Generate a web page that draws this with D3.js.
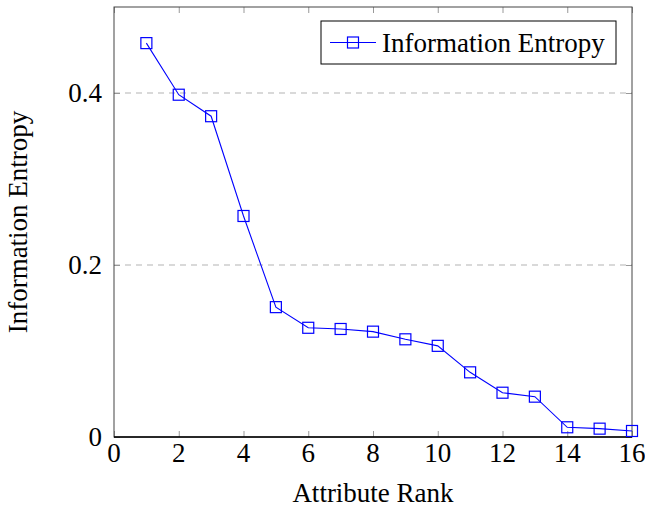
<!DOCTYPE html>
<html>
<head>
<meta charset="utf-8">
<script src="https://cdn.jsdelivr.net/npm/d3@7"></script>
<style>
  body { margin: 0; background: #fff; }
  svg { display: block; font-family: "Liberation Serif", "DejaVu Serif", serif; }
</style>
</head>
<body>
<div id="chart"></div>
<script>
var ranks = [1, 2, 3, 4, 5, 6, 7, 8, 9, 10, 11, 12, 13, 14, 15, 16];
var entropy = [0.458, 0.398, 0.373, 0.257, 0.151, 0.127, 0.1256, 0.1225, 0.1136, 0.106,
  0.0752, 0.0515, 0.0469, 0.0113, 0.0097, 0.007];
var xTicks = [0, 2, 4, 6, 8, 10, 12, 14, 16];
var yTicks = [0, 0.2, 0.4];
var seriesName = "Information Entropy";

var W = 645, H = 512;
var margin = { top: 7, right: 13, bottom: 75, left: 114 };
var width = W - margin.left - margin.right,
  height = H - margin.top - margin.bottom;

var svg = d3.select("#chart").append("svg").attr("width", W).attr("height", H);
var g = svg.append("g").attr("transform", "translate(" + margin.left + "," + margin.top + ")");

var x = d3.scaleLinear().domain([0, 16]).range([0, width]);
var y = d3.scaleLinear().domain([0, 0.5]).range([height, 0]);

// dashed grid on y major ticks
g.selectAll(".grid").data(yTicks.filter(function (d) { return d > 0; }))
  .enter().append("line")
  .attr("x1", 0).attr("x2", width)
  .attr("y1", function (d) { return y(d); }).attr("y2", function (d) { return y(d); })
  .attr("stroke", "#b3b3b3").attr("stroke-width", 1).attr("stroke-dasharray", "6,5");

// inner ticks on all four sides
var tickLen = 6;
function ticks(axis, cls) {
  var sel = g.append("g").attr("class", cls);
  sel.call(axis);
  sel.select(".domain").remove();
  sel.selectAll(".tick line").attr("stroke", "#999");
  sel.selectAll(".tick text").remove();
}
ticks(d3.axisBottom(x).tickValues(xTicks).tickSize(tickLen).tickSizeOuter(0), "xb");
g.select(".xb").attr("transform", "translate(0," + (height - tickLen) + ")");
ticks(d3.axisTop(x).tickValues(xTicks).tickSize(-tickLen), "xt");
ticks(d3.axisLeft(y).tickValues(yTicks).tickSize(-tickLen), "yl");
ticks(d3.axisRight(y).tickValues(yTicks).tickSize(tickLen), "yr");
g.select(".yr").attr("transform", "translate(" + (width - tickLen) + ",0)");

// frame
g.append("rect").attr("width", width).attr("height", height)
  .attr("fill", "none").attr("stroke", "#444").attr("stroke-width", 1);
g.append("line").attr("x1", 0).attr("x2", width).attr("y1", height).attr("y2", height)
  .attr("stroke", "#000").attr("stroke-width", 1.3);

// tick labels
g.selectAll(".xl").data(xTicks).enter().append("text")
  .attr("x", function (d) { return x(d); }).attr("y", height + 25)
  .attr("text-anchor", "middle").attr("font-size", 27).text(function (d) { return d; });
g.selectAll(".yl2").data(yTicks).enter().append("text")
  .attr("x", -12).attr("y", function (d) { return y(d) + 9; })
  .attr("text-anchor", "end").attr("font-size", 27)
  .text(function (d) { return d === 0 ? "0" : d3.format(".1f")(d); });

// axis labels
svg.append("text").attr("x", margin.left + width / 2).attr("y", 502)
  .attr("text-anchor", "middle").attr("font-size", 27).text("Attribute Rank");
svg.append("text").attr("transform", "translate(27,222) rotate(-90)")
  .attr("text-anchor", "middle").attr("font-size", 27).text("Information Entropy");

// series
var pts = ranks.map(function (r, i) { return { r: r, v: entropy[i] }; });
var line = d3.line().x(function (d) { return x(d.r); }).y(function (d) { return y(d.v); });
g.append("path").datum(pts).attr("d", line)
  .attr("fill", "none").attr("stroke", "#0000ff").attr("stroke-width", 1.1);
var ms = 11;
g.selectAll(".m").data(pts).enter().append("rect")
  .attr("x", function (d) { return x(d.r) - ms / 2; })
  .attr("y", function (d) { return y(d.v) - ms / 2; })
  .attr("width", ms).attr("height", ms)
  .attr("fill", "none").attr("stroke", "#0000ff").attr("stroke-width", 1.2);

// legend
var lg = svg.append("g").attr("transform", "translate(321,21)");
lg.append("rect").attr("width", 295).attr("height", 43)
  .attr("fill", "#fff").attr("stroke", "#000").attr("stroke-width", 1);
lg.append("line").attr("x1", 9).attr("x2", 55).attr("y1", 21.5).attr("y2", 21.5)
  .attr("stroke", "#0000ff").attr("stroke-width", 1.1);
lg.append("rect").attr("x", 32 - ms / 2).attr("y", 21.5 - ms / 2).attr("width", ms).attr("height", ms)
  .attr("fill", "none").attr("stroke", "#0000ff").attr("stroke-width", 1.2);
lg.append("text").attr("x", 61).attr("y", 31).attr("font-size", 27).text(seriesName);
</script>
</body>
</html>
